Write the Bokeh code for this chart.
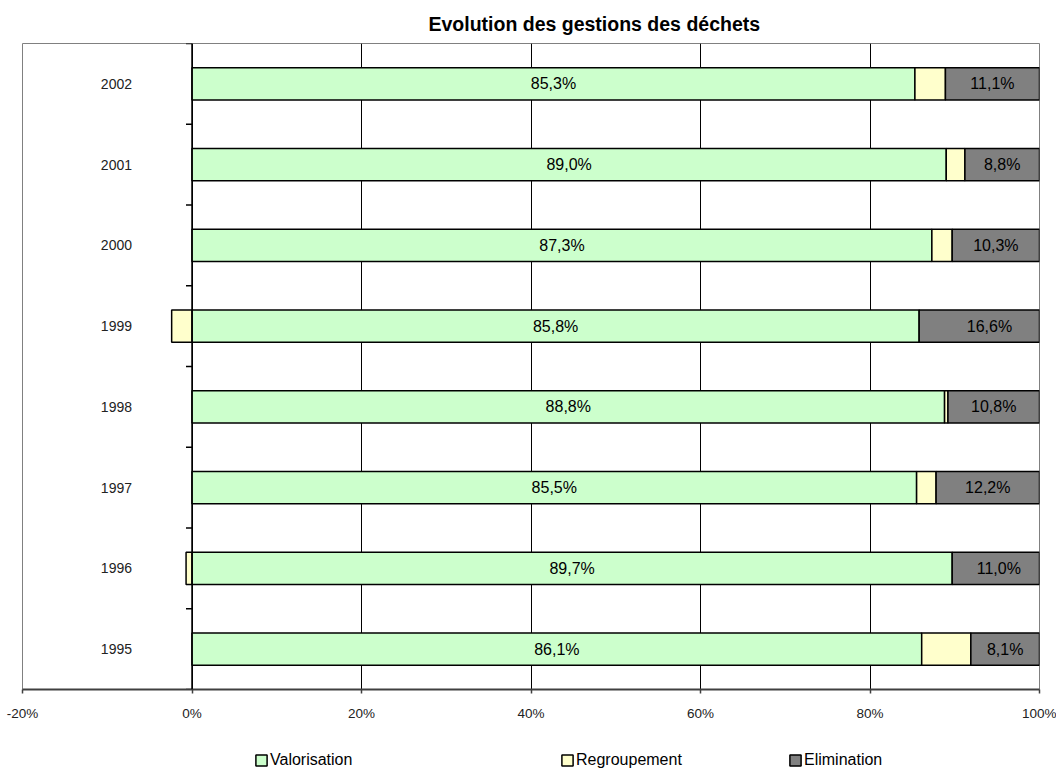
import numpy as np
from bokeh.plotting import figure
from bokeh.layouts import column
from bokeh.models import (ColumnDataSource, FixedTicker, Span, Legend, LegendItem, Title,
                          Range1d)
from bokeh.core.properties import value
from bokeh.embed import file_html
from bokeh.resources import INLINE

# ---- data ----
years = ["1995", "1996", "1997", "1998", "1999", "2000", "2001", "2002"]
valorisation = [86.1, 89.7, 85.5, 88.8, 85.8, 87.3, 89.0, 85.3]
regroupement = [5.8, -0.7, 2.3, 0.4, -2.4, 2.4, 2.2, 3.6]
elimination = [8.1, 11.0, 12.2, 10.8, 16.6, 10.3, 8.8, 11.1]
x_ticks = [-20, 0, 20, 40, 60, 80, 100]
series_names = ["Valorisation", "Regroupement", "Elimination"]
series_colors = ["#CCFFCC", "#FFFFCC", "#808080"]
title_text = "Evolution des gestions des déchets"

# ---- derived stacking (Excel style: negatives stacked left of 0) ----
idx = np.arange(len(years))
v = np.array(valorisation)
r = np.array(regroupement)
e = np.array(elimination)
v_left, v_right = np.zeros_like(v), v
r_left = np.where(r >= 0, v, r)
r_right = np.where(r >= 0, v + r, 0.0)
e_left = v + np.maximum(r, 0)
e_right = e_left + e

def fmt(x):
    return f"{x:.1f}%".replace(".", ",")

src = ColumnDataSource(dict(
    y=idx, v_left=v_left, v_right=v_right, r_left=r_left, r_right=r_right,
    e_left=e_left, e_right=e_right,
    v_mid=(v_left + v_right) / 2, e_mid=(e_left + e_right) / 2,
    v_lab=[fmt(x) for x in v], e_lab=[fmt(x) for x in e],
    zero=np.zeros_like(v), year=years,
))

FONT = "Liberation Sans"
W = 1056

p = figure(width=W, height=731, x_range=(-20, 100), y_range=(-0.5, len(years) - 0.5),
           output_backend="svg", toolbar_location=None, y_axis_location=None,
           min_border_left=22, min_border_right=17, min_border_top=43, min_border_bottom=42)
p.background_fill_color = "white"
p.border_fill_color = "white"
p.outline_line_color = "#808080"
p.outline_line_width = 1

p.add_layout(Title(text=title_text, align="left", offset=406, text_font=FONT,
                   text_font_size="19.5px", text_font_style="bold", text_color="black",
                   standoff=18), "above")

# grid
p.ygrid.visible = False
p.xgrid.ticker = FixedTicker(ticks=[t for t in x_ticks if -20 < t < 100])
p.xgrid.grid_line_color = "black"
p.xgrid.grid_line_width = 1

# x axis
p.xaxis.ticker = FixedTicker(ticks=x_ticks)
p.xaxis.major_label_overrides = {t: f"{t}%" for t in x_ticks}
p.xaxis.major_label_text_font = FONT
p.xaxis.major_label_text_font_size = "13.5px"
p.xaxis.major_label_text_color = "#222222"
p.xaxis.axis_line_color = "#404040"
p.xaxis.axis_line_width = 2
p.xaxis.major_tick_line_color = "#404040"
p.xaxis.major_tick_line_width = 1.5
p.xaxis.major_tick_out = 4
p.xaxis.major_tick_in = 0
p.xaxis.minor_tick_line_color = None
p.xaxis.major_label_standoff = 12

# category axis at 0
p.add_layout(Span(location=0, dimension="height", line_color="black", line_width=1.5))
bounds = np.arange(len(years) + 1) - 0.5
p.ray(x=np.zeros_like(bounds), y=bounds, length=6, length_units="screen", angle=np.pi,
      line_color="black", line_width=1.5)
p.text(x="zero", y="y", text="year", source=src, x_offset=-60, text_align="right",
       text_baseline="middle", text_font=value(FONT), text_font_size="14px",
       text_color="#222222")

# bars
H = 0.4
bar_style = dict(line_color="black", line_width=1.5)
bar_fields = [("v_left", "v_right"), ("r_left", "r_right"), ("e_left", "e_right")]
rv = p.hbar(y="y", left="v_left", right="v_right", height=H, source=src,
            fill_color=series_colors[0], **bar_style)
rr = p.hbar(y="y", left="r_left", right="r_right", height=H, source=src,
            fill_color=series_colors[1], **bar_style)
re_ = p.hbar(y="y", left="e_left", right="e_right", height=H, source=src,
             fill_color=series_colors[2], **bar_style)

p.text(x="v_mid", y="y", text="v_lab", source=src, text_align="center", text_baseline="middle",
       text_font=value(FONT), text_font_size="16px", text_color="black")
p.text(x="e_mid", y="y", text="e_lab", source=src, text_align="center", text_baseline="middle",
       text_font=value(FONT), text_font_size="16px", text_color="black")

# ---- legend strip (separate canvas under the chart; frames are aligned) ----
lf = figure(width=W, height=38, x_range=Range1d(-20, 100), y_range=Range1d(-0.5, 0.5),
            output_backend="svg", toolbar_location=None, x_axis_location=None,
            y_axis_location=None, min_border=0)
lf.outline_line_color = None
lf.grid.visible = False
lf.background_fill_color = "white"
lf.border_fill_color = "white"
leg_x = [232, 538, 766]
for name, col, (lk, rk), lx in zip(series_names, series_colors, bar_fields, leg_x):
    # hidden copy of the series: only supplies the legend swatch
    proxy = lf.hbar(y="y", left=lk, right=rk, height=H, source=src,
                    fill_color=col, visible=False, **bar_style)
    lg = Legend(items=[LegendItem(label=name, renderers=[proxy])], location=(lx, 0),
                orientation="horizontal", padding=0, margin=0, spacing=0,
                border_line_color=None, background_fill_alpha=0,
                inactive_fill_alpha=0, click_policy="none",
                glyph_width=14, glyph_height=14, label_standoff=2, label_height=18,
                label_text_font=FONT, label_text_font_size="16px", label_text_color="black")
    lf.add_layout(lg)

layout = column(p, lf, spacing=0)
open("out.html", "w").write(file_html(layout, INLINE))
